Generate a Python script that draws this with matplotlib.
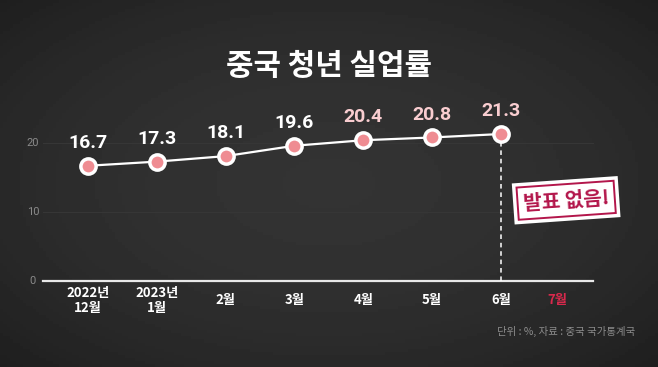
import numpy as np
import matplotlib.pyplot as plt

plt.rcParams['font.family'] = ['Noto Sans CJK KR', 'DejaVu Sans']

# 데이터
months = ['2022년\n12월', '2023년\n1월', '2월', '3월', '4월', '5월', '6월', '7월']
rates = [16.7, 17.3, 18.1, 19.6, 20.4, 20.8, 21.3]
yticks = [0, 10, 20]
title = '중국 청년 실업률'
note = '발표 없음!'
source = '단위 : %, 자료 : 중국 국가통계국'

bg = '#262626'
pink = '#ef8c92'
pale = '#f9cdd0'
crimson = '#b3164b'

fig = plt.figure(figsize=(6.58, 3.67), dpi=100, facecolor=bg)
ax = fig.add_axes([0, 0, 1, 1])
ax.set_facecolor(bg)

# 픽셀 위치에 맞춘 범위
ax.set_xlim(-1.279, 8.285)
ax.set_ylim(-12.46, 40.72)
ax.axis('off')

# 배경 살짝 그라데이션
gx, gy = np.meshgrid(np.linspace(-1, 1, 200), np.linspace(-1, 1, 120))
shade = 1 - 0.35 * (gx ** 2 + gy ** 2)
ax.imshow(shade, extent=(-1.279, 8.285, -12.46, 40.72), aspect='auto',
          cmap='gray', vmin=-0.75, vmax=8.0, zorder=0)

xs = np.arange(len(rates))

# 기준선, 보조선
ax.plot([-0.654, 7.34], [0, 0], color='#e8e8e8', lw=1.6, zorder=2)
for v in yticks[1:]:
    ax.plot([-0.654, 7.34], [v, v], color='#363636', lw=0.8, zorder=1)
for v in yticks:
    ax.text(-0.80, v, str(v), color='#8a8a8a', fontsize=8,
            ha='center', va='center', family=['Roboto', 'DejaVu Sans'])

# 선과 점
ax.plot(xs, rates, color='white', lw=1.6, zorder=3)
ax.plot(xs, rates, 'o', ms=11, mfc=pink, mec='white', mew=2.5, zorder=4)
ax.plot([xs[-1], xs[-1]], [0, rates[-1]], color='white', lw=1.1,
        ls=(0, (3, 2.5)), zorder=2)

for i, v in enumerate(rates):
    c = 'white' if i < 4 else pale
    ax.text(xs[i], v + 2.0, f'{v}', color=c, fontsize=14, fontweight='bold',
            ha='center', va='bottom', family=['Roboto', 'DejaVu Sans'], zorder=5)

# x축 라벨
label_x = list(xs) + [6.82]
for x, m in zip(label_x, months):
    c = '#d8294c' if m == '7월' else 'white'
    ax.text(x, -2.8, m, color=c, fontsize=9.5, fontweight='bold',
            ha='center', va='center', linespacing=1.1)

# 제목
ax.text(3.5, 31.2, title, color='white', fontsize=21.5, fontweight='black',
        ha='center', va='center')

# 발표 없음 스티커
bx, by = 6.95, 11.7
ax.text(bx, by, note, color='white', fontsize=14.5, fontweight='black',
        ha='center', va='center', rotation=4, zorder=6,
        bbox=dict(boxstyle='square,pad=0.5', fc='white', ec='white', lw=0))
ax.text(bx, by, note, color=crimson, fontsize=14.5, fontweight='black',
        ha='center', va='center', rotation=4, zorder=7,
        bbox=dict(boxstyle='square,pad=0.28', fc='white', ec=crimson, lw=1.4))

# 출처
ax.text(7.95, -7.3, source, color='#8c8c8c', fontsize=7.5,
        ha='right', va='center')

fig.savefig('out.png', dpi=100, facecolor=bg)
